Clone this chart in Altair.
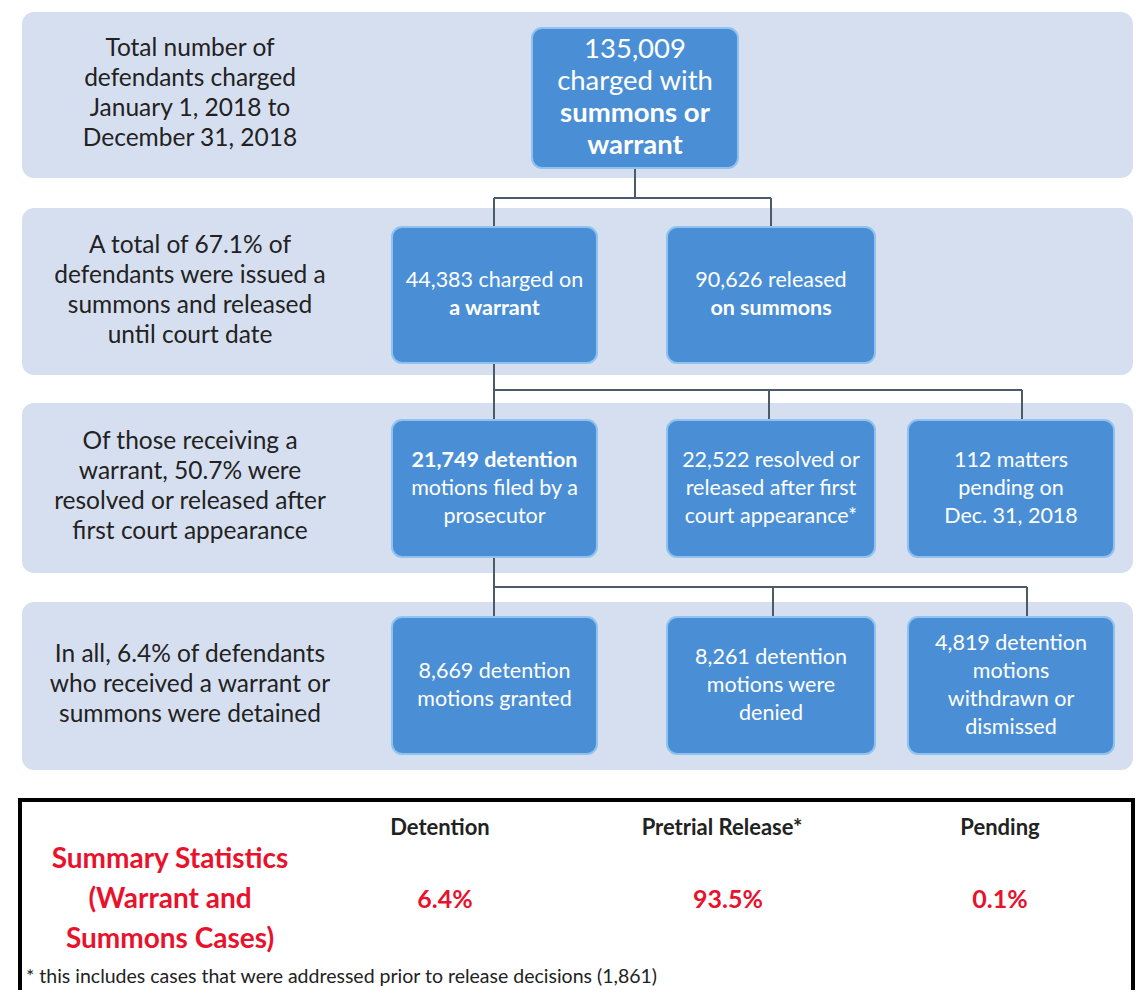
import altair as alt
import pandas as pd

# ---------------- data (text content) ----------------
row_labels = [
    ["Total number of", "defendants charged", "January 1, 2018  to", "December 31, 2018"],
    ["A total of 67.1% of", "defendants were issued a", "summons and released", "until court date"],
    ["Of those receiving a", "warrant, 50.7% were", "resolved or released after", "first court appearance"],
    ["In all, 6.4% of defendants", "who received a warrant or", "summons were detained"],
]

top_box = [("135,009", False), ("charged with", False), ("summons or", True), ("warrant", True)]

row_boxes = [
    [
        [("44,383 charged on", False), ("a warrant", True)],
        [("90,626 released", False), ("on summons", True)],
    ],
    [
        [("21,749 detention", True), ("motions filed by a", False), ("prosecutor", False)],
        [("22,522 resolved or", False), ("released after first", False), ("court appearance*", False)],
        [("112 matters", False), ("pending on", False), ("Dec. 31, 2018", False)],
    ],
    [
        [("8,669 detention", False), ("motions granted", False)],
        [("8,261 detention", False), ("motions were", False), ("denied", False)],
        [("4,819 detention", False), ("motions", False), ("withdrawn or", False), ("dismissed", False)],
    ],
]

summary_title = ["Summary Statistics", "(Warrant and", "Summons Cases)"]
summary_headers = ["Detention", "Pretrial Release*", "Pending"]
summary_values = ["6.4%", "93.5%", "0.1%"]
footnote = "* this includes cases that were addressed prior to release decisions (1,861)"

# ---------------- layout (pixel grid of the page) ----------------
FONT = "Lato"
BAND_X = (22, 1133)
BAND_Y = [(12, 178), (208, 375), (403, 573), (602, 770)]
TOP_BOX = (532, 738, 28, 168)
COLS = [(392, 597), (667, 875), (908, 1114)]
ROW_BOX_Y = [(227, 363), (420, 557), (617, 754)]
LABEL_X = 190
SUM_COL_X = [440, 722, 1000]

bands = pd.DataFrame(
    [{"x": BAND_X[0], "x2": BAND_X[1], "y": a, "y2": b} for a, b in BAND_Y]
)

box_rows = [{"x": TOP_BOX[0], "x2": TOP_BOX[1], "y": TOP_BOX[2], "y2": TOP_BOX[3]}]
box_text = []
n = len(top_box)
cy = (TOP_BOX[2] + TOP_BOX[3]) / 2
for i, (t, b) in enumerate(top_box):
    box_text.append({"x": (TOP_BOX[0] + TOP_BOX[1]) / 2, "y": cy + (i - (n - 1) / 2) * 32,
                     "t": t, "w": "bold" if b else "normal", "s": 27.5})
for r, boxes in enumerate(row_boxes):
    y0, y1 = ROW_BOX_Y[r]
    for c, lines in enumerate(boxes):
        x0, x1 = COLS[c]
        box_rows.append({"x": x0, "x2": x1, "y": y0, "y2": y1})
        n = len(lines)
        cy = (y0 + y1) / 2
        for i, (t, b) in enumerate(lines):
            box_text.append({"x": (x0 + x1) / 2, "y": cy + (i - (n - 1) / 2) * 28,
                             "t": t, "w": "bold" if b else "normal", "s": 21.5})
boxes_df = pd.DataFrame(box_rows)
box_text_df = pd.DataFrame(box_text)

label_rows = []
for r, lines in enumerate(row_labels):
    y0, y1 = BAND_Y[r]
    cy = (y0 + y1) / 2 - 1
    n = len(lines)
    for i, t in enumerate(lines):
        label_rows.append({"x": LABEL_X, "y": cy + (i - (n - 1) / 2) * 30, "t": t})
labels_df = pd.DataFrame(label_rows)

# connectors: from a parent box down to a bus, then to children
def bus(px, py0, ybus, child_xs, cy1):
    segs = [{"x": px, "x2": px, "y": py0, "y2": ybus},
            {"x": min(child_xs), "x2": max(child_xs), "y": ybus, "y2": ybus}]
    for cx in child_xs:
        segs.append({"x": cx, "x2": cx, "y": ybus, "y2": cy1})
    return segs

conn = []
conn += bus(635, TOP_BOX[3], 198, [494, 771], ROW_BOX_Y[0][0])
conn += bus(494, ROW_BOX_Y[0][1], 390, [494, 769, 1022], ROW_BOX_Y[1][0])
conn += bus(494, ROW_BOX_Y[1][1], 587, [494, 773, 1027], ROW_BOX_Y[2][0])
conn_df = pd.DataFrame(conn)

summary_box = pd.DataFrame([{"x": 20, "x2": 1133, "y": 800, "y2": 1010}])
sum_title_df = pd.DataFrame([{"x": 170, "y": 860 + i * 40, "t": t} for i, t in enumerate(summary_title)])
sum_head_df = pd.DataFrame([{"x": SUM_COL_X[i], "y": 828, "t": t} for i, t in enumerate(summary_headers)])
sum_val_df = pd.DataFrame([{"x": [445, 728, 1000][i], "y": 900, "t": t} for i, t in enumerate(summary_values)])
foot_df = pd.DataFrame([{"x": 26, "y": 977, "t": footnote}])

xs = alt.Scale(domain=[8, 1135], nice=False, zero=False)
ys = alt.Scale(domain=[8, 990], nice=False, zero=False, reverse=True)
X = alt.X("x:Q", scale=xs, axis=None)
Y = alt.Y("y:Q", scale=ys, axis=None)

band_l = alt.Chart(bands).mark_rect(color="#d6dff0", cornerRadius=12).encode(
    x=X, x2="x2", y=Y, y2="y2")
conn_l = alt.Chart(conn_df).mark_rule(color="#4d5a68", strokeWidth=2).encode(
    x=X, x2="x2", y=Y, y2="y2")
box_l = alt.Chart(boxes_df).mark_rect(color="#4a8fd6", stroke="#8fc2ee", strokeWidth=2,
                                      cornerRadius=10).encode(x=X, x2="x2", y=Y, y2="y2")

def box_txt(weight):
    return alt.Chart(box_text_df).transform_filter(
        alt.datum.w == weight
    ).mark_text(color="white", font=FONT, baseline="middle", align="center",
                fontWeight=weight).encode(
        x=X, y=Y, text="t:N",
        size=alt.Size("s:Q", scale=None, legend=None))

box_txt_n = box_txt("normal")
box_txt_b = box_txt("bold")
label_l = alt.Chart(labels_df).mark_text(color="#222222", font=FONT, fontSize=24.5,
                                         baseline="middle", align="center").encode(
    x=X, y=Y, text="t:N")
sbox_l = alt.Chart(summary_box).mark_rect(fill="white", stroke="black", strokeWidth=4).encode(
    x=X, x2="x2", y=Y, y2="y2")
stitle_l = alt.Chart(sum_title_df).mark_text(color="#e8122d", font=FONT, fontSize=28,
                                             fontWeight="bold", baseline="middle",
                                             align="center").encode(x=X, y=Y, text="t:N")
shead_l = alt.Chart(sum_head_df).mark_text(color="#222222", font=FONT, fontSize=22,
                                           fontWeight="bold", baseline="middle",
                                           align="center").encode(x=X, y=Y, text="t:N")
sval_l = alt.Chart(sum_val_df).mark_text(color="#e8122d", font=FONT, fontSize=25,
                                         fontWeight="bold", baseline="middle",
                                         align="center").encode(x=X, y=Y, text="t:N")
foot_l = alt.Chart(foot_df).mark_text(color="#222222", font=FONT, fontSize=19.5,
                                      baseline="middle", align="left").encode(
    x=X, y=Y, text="t:N")

chart = alt.layer(band_l, conn_l, box_l, box_txt_n, box_txt_b, label_l, sbox_l, stitle_l,
                  shead_l, sval_l, foot_l).properties(
    width=1127, height=982, padding=0, autosize=alt.AutoSizeParams(type="none"),
    background="white"
).configure_view(stroke=None)

chart.save("out.html", embed_options={"renderer": "svg", "actions": False})
